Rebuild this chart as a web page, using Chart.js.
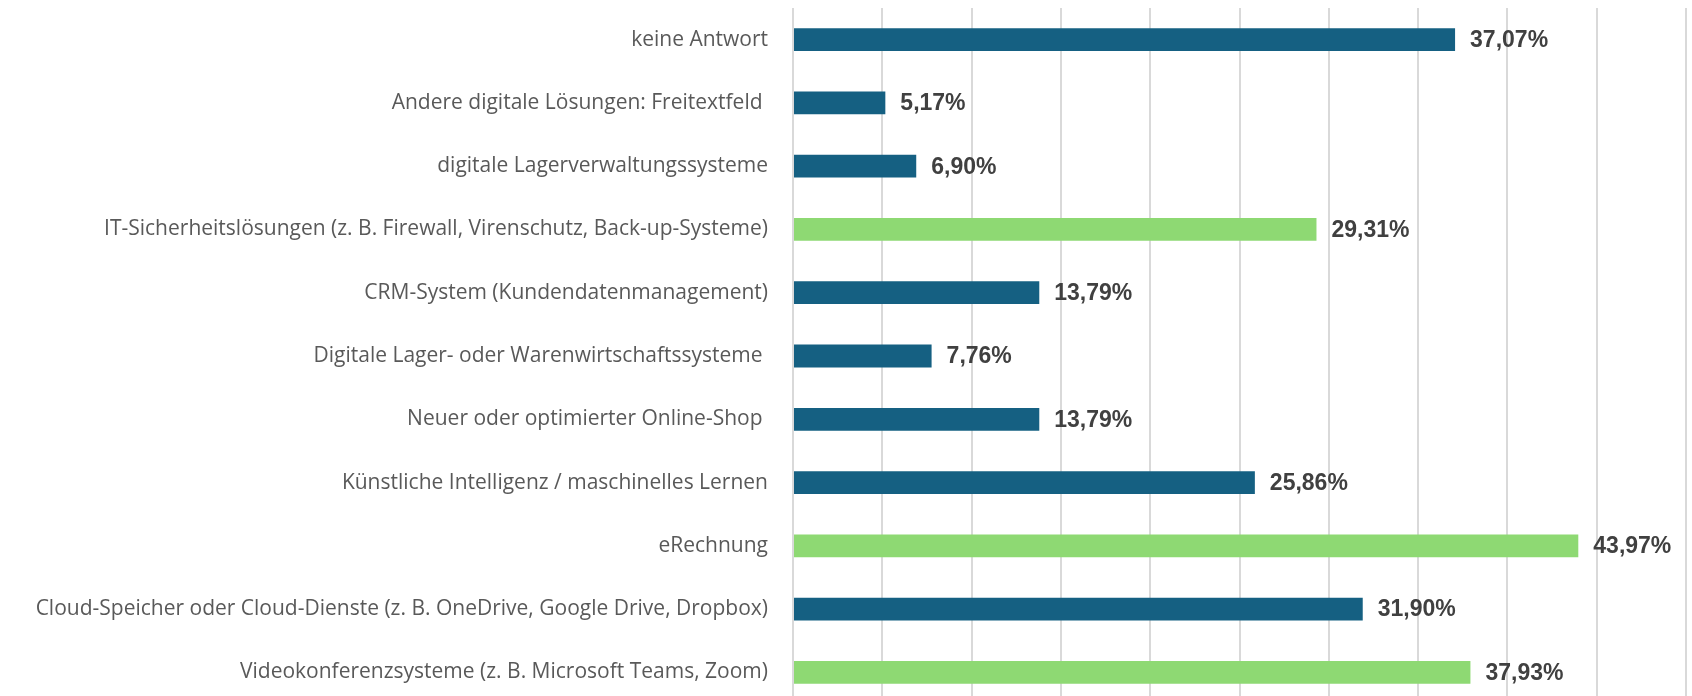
<!DOCTYPE html>
<html>
<head>
<meta charset="utf-8">
<script src="https://cdn.jsdelivr.net/npm/chart.js@4.4.1/dist/chart.umd.min.js"></script>
<style>
  html, body { margin: 0; padding: 0; background: #ffffff; overflow: hidden; }
  #wrap { width: 1692px; height: 704px; }
</style>
</head>
<body>
<div id="wrap"><canvas id="c" width="1692" height="704"></canvas></div>
<script>
const categories = [
  "keine Antwort",
  "Andere digitale Lösungen: Freitextfeld ",
  "digitale Lagerverwaltungssysteme",
  "IT-Sicherheitslösungen (z. B. Firewall, Virenschutz, Back-up-Systeme)",
  "CRM-System (Kundendatenmanagement)",
  "Digitale Lager- oder Warenwirtschaftssysteme ",
  "Neuer oder optimierter Online-Shop ",
  "Künstliche Intelligenz / maschinelles Lernen",
  "eRechnung",
  "Cloud-Speicher oder Cloud-Dienste (z. B. OneDrive, Google Drive, Dropbox)",
  "Videokonferenzsysteme (z. B. Microsoft Teams, Zoom)"
];
const values = [37.07, 5.17, 6.90, 29.31, 13.79, 7.76, 13.79, 25.86, 43.97, 31.90, 37.93];
const highlighted = [false, false, false, true, false, false, false, false, true, false, true];
const xTicks = [0, 5, 10, 15, 20, 25, 30, 35, 40, 45, 50];

const BLUE = "#156082";
const GREEN = "#8ED973";

const valueLabels = {
  id: "valueLabels",
  afterDatasetsDraw(chart) {
    const ctx = chart.ctx;
    const meta = chart.getDatasetMeta(0);
    ctx.save();
    ctx.font = "bold 23px 'Liberation Sans', Arial, sans-serif";
    ctx.fillStyle = "#404040";
    ctx.textAlign = "left";
    ctx.textBaseline = "middle";
    meta.data.forEach((bar, i) => {
      const txt = values[i].toFixed(2).replace(".", ",") + "%";
      ctx.fillText(txt, bar.x + 15, bar.y + 1);
    });
    ctx.restore();
  }
};

new Chart(document.getElementById("c"), {
  type: "bar",
  data: {
    labels: categories,
    datasets: [{
      data: values,
      backgroundColor: highlighted.map(h => h ? GREEN : BLUE),
      borderWidth: 0,
      categoryPercentage: 1.0,
      barPercentage: 0.36
    }]
  },
  options: {
    indexAxis: "y",
    responsive: false,
    animation: false,
    devicePixelRatio: 1,
    layout: { padding: { top: 8, right: 6, bottom: 0, left: 0 } },
    plugins: { legend: { display: false }, tooltip: { enabled: false } },
    scales: {
      x: {
        min: 0,
        max: 50,
        afterBuildTicks(scale) { scale.ticks = xTicks.map(v => ({ value: v })); },
        afterFit(scale) { scale.height = 0; scale.paddingLeft = 0; scale.paddingRight = 0; },
        ticks: { display: false },
        grid: { color: "#d9d9d9", lineWidth: 2, drawTicks: false },
        border: { display: false }
      },
      y: {
        afterFit(scale) { scale.width = 793; scale.paddingTop = 0; scale.paddingBottom = 0; },
        grid: { display: false, drawTicks: false },
        border: { display: false },
        ticks: {
          padding: 25,
          color: "#595959",
          font: { family: "'Open Sans', sans-serif", size: 21 },
          autoSkip: false
        }
      }
    }
  },
  plugins: [valueLabels]
});
</script>
</body>
</html>
